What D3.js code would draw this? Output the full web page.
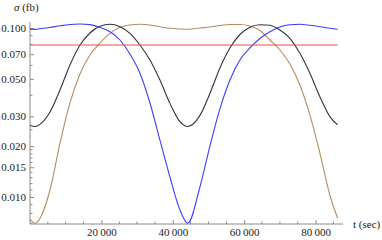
<!DOCTYPE html>
<html>
<head>
<meta charset="utf-8">
<script src="https://cdn.jsdelivr.net/npm/d3@7"></script>
<style>
	html, body { margin: 0; padding: 0; background: #fff; }
	#chart { width: 382px; height: 240px; }
	svg text { font-family: "Liberation Serif", "Times New Roman", Times, "DejaVu Serif", serif !important; fill: #222; }
</style>
</head>
<body>
<div id="chart"></div>
<script>
	// time samples (sec) shared by the curves
	const times = [0, 1400, 2800, 5600, 8400, 11200, 14000, 16800, 19600, 22400, 25200, 28000,
		30800, 33600, 36400, 39200, 42000, 44200, 47600, 50400, 53200, 56000, 58800, 61600,
		64400, 67200, 70000, 72800, 75600, 78400, 81200, 84000, 86164];

	// sigma (fb)
	const sigmaBlue = [0.0982, 0.0981, 0.0989, 0.1007, 0.1030, 0.1049, 0.1056, 0.1047, 0.1010, 0.0951,
		0.0849, 0.0702, 0.0540, 0.0360, 0.0217, 0.01313, 0.00838, 0.00699, 0.01146, 0.0200, 0.0332,
		0.0492, 0.0647, 0.0762, 0.0867, 0.0951, 0.1014, 0.1045, 0.1052, 0.1037, 0.1018, 0.0996, 0.0982];
	const sigmaBlack = [0.0265, 0.0261, 0.0269, 0.0318, 0.0430, 0.0604, 0.0793, 0.0934, 0.1023, 0.1052,
		0.1018, 0.0930, 0.0793, 0.0647, 0.0492, 0.0358, 0.0279, 0.0261, 0.0304, 0.0410, 0.0580,
		0.0762, 0.0915, 0.1010, 0.1045, 0.1037, 0.0973, 0.0869, 0.0708, 0.0540, 0.0392, 0.0299, 0.0267];
	const sigmaBrown = [0.00741, 0.00699, 0.00748, 0.0110, 0.0208, 0.0360, 0.0534, 0.0692, 0.0815, 0.0930,
		0.1010, 0.1042, 0.1052, 0.1042, 0.1018, 0.0996, 0.0986, 0.0982, 0.1000, 0.1014, 0.1035,
		0.1049, 0.1049, 0.1028, 0.0966, 0.0849, 0.0741, 0.0612, 0.0460, 0.0306, 0.0182, 0.01027, 0.00748];
	const sigmaRed = 0.0793;

	// ticks
	const xMajor = [20000, 40000, 60000, 80000];
	const xMinor = [5000, 10000, 15000, 25000, 30000, 35000, 45000, 50000, 55000, 65000, 70000, 75000, 85000];
	const yMajor = [0.01, 0.015, 0.02, 0.03, 0.05, 0.07, 0.1];
	const yMajorLabels = ["0.010", "0.015", "0.020", "0.030", "0.050", "0.070", "0.100"];
	const yMinor = [0.007, 0.008, 0.009, 0.011, 0.012, 0.013, 0.014, 0.016, 0.017, 0.018, 0.019, 0.025, 0.04, 0.06, 0.08, 0.09];

	const chartDiv = document.getElementById("chart");
	const svg = d3.select(chartDiv).append("svg")
		.attr("width", 382)
		.attr("height", 240);

	const x = d3.scaleLinear().domain([0, 86164]).range([30, 337.6]);
	const y = d3.scaleLog().domain([0.00692, 0.1085]).range([224, 22]);
	const xEnd = 87700;

	const axisColor = "#8a8a8a";
	const fontSize = 11;

	// x axis
	const xAxisG = svg.append("g").attr("transform", "translate(0,224)");
	xAxisG.call(d3.axisBottom(x)
		.tickValues(xMajor)
		.tickSizeInner(-4)
		.tickSizeOuter(0)
		.tickPadding(4)
		.tickFormat(d => d3.format(",")(d).replace(",", "\u2009")));
	xAxisG.attr("font-family", null).attr("font-size", fontSize);
	xAxisG.select(".domain").attr("d", `M${x(0)},0H${x(xEnd)}`);
	xAxisG.selectAll("line, .domain").attr("stroke", axisColor);
	xAxisG.selectAll(".minor").data(xMinor).enter().append("line")
		.attr("class", "minor")
		.attr("x1", d => x(d)).attr("x2", d => x(d))
		.attr("y1", 0).attr("y2", -2.5)
		.attr("stroke", axisColor);

	// y axis
	const yAxisG = svg.append("g").attr("transform", "translate(30,0)");
	yAxisG.call(d3.axisLeft(y)
		.tickValues(yMajor)
		.tickSizeInner(-4)
		.tickSizeOuter(0)
		.tickPadding(4)
		.tickFormat((d, i) => yMajorLabels[i]));
	yAxisG.attr("font-family", null).attr("font-size", fontSize);
	yAxisG.select(".domain").attr("d", `M0,${y(0.1085)}V${y(0.00692)}`);
	yAxisG.selectAll("line, .domain").attr("stroke", axisColor);
	yAxisG.selectAll(".minor").data(yMinor).enter().append("line")
		.attr("class", "minor")
		.attr("y1", d => y(d)).attr("y2", d => y(d))
		.attr("x1", 0).attr("x2", 2.5)
		.attr("stroke", axisColor);

	// axis labels
	svg.append("text")
		.attr("x", 353).attr("y", 228)
		.attr("font-size", fontSize)
		.text("t (sec)");
	const yLabel = svg.append("text")
		.attr("x", 14).attr("y", 11)
		.attr("font-size", fontSize);
	yLabel.append("tspan").attr("font-style", "italic").text("σ");
	yLabel.append("tspan").text(" (fb)");

	// curves
	const line = d3.line()
		.x(d => x(d[0]))
		.y(d => y(d[1]))
		.curve(d3.curveMonotoneX);

	const series = [
		{ values: sigmaBrown, color: "#b88a5e" },
		{ values: sigmaBlack, color: "#333333" },
		{ values: sigmaBlue, color: "#3c3cff" },
		{ values: times.map(() => sigmaRed), color: "#e84c4c" }
	];

	svg.append("g").selectAll("path").data(series).enter().append("path")
		.attr("d", s => line(times.map((t, i) => [t, s.values[i]])))
		.attr("fill", "none")
		.attr("stroke", s => s.color)
		.attr("stroke-width", 1.1);
</script>
</body>
</html>
